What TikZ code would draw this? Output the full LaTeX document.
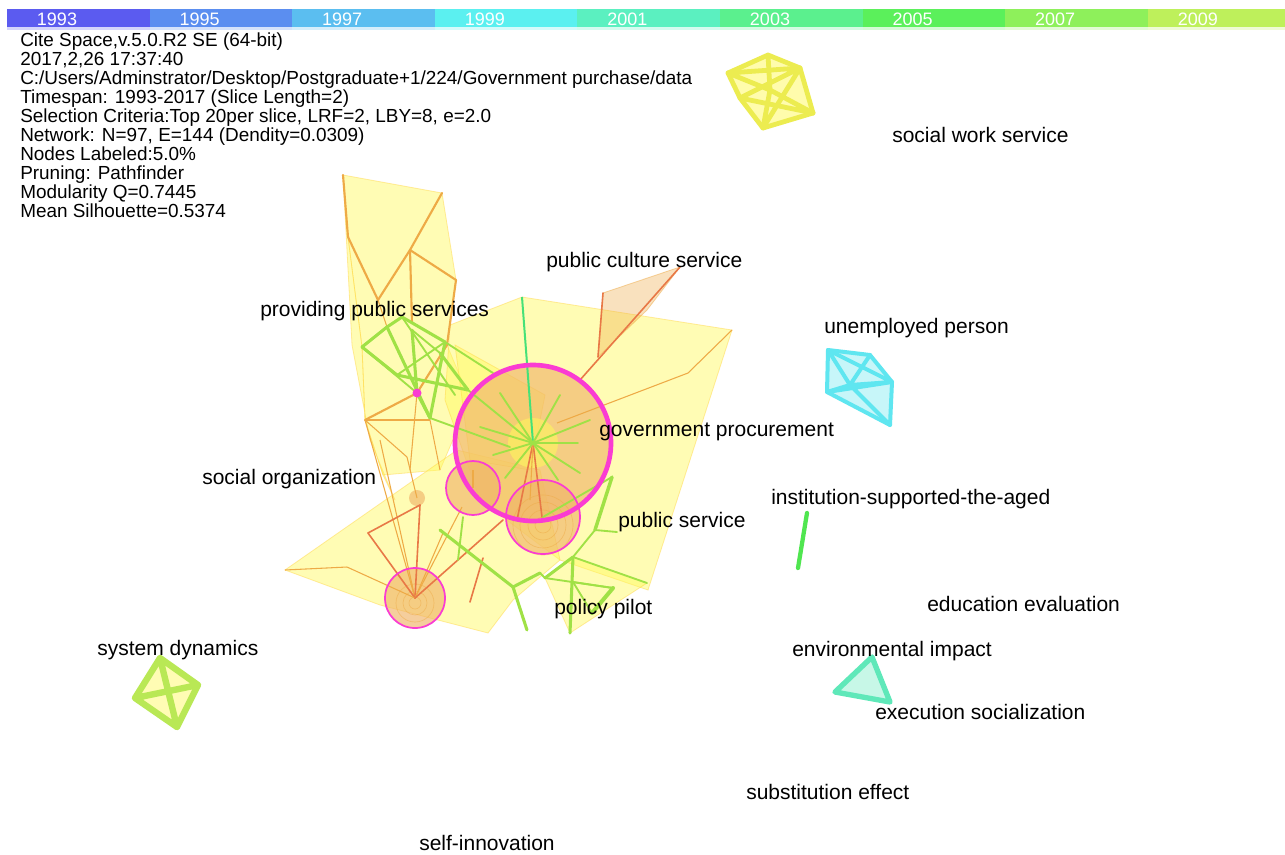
\documentclass[tikz,border=0pt]{standalone}
\usepackage{fontspec}
\setmainfont{Liberation Sans}
\usetikzlibrary{calc}
\definecolor{y93}{RGB}{91,91,240}
\definecolor{y95}{RGB}{91,142,240}
\definecolor{y97}{RGB}{91,190,240}
\definecolor{y99}{RGB}{91,240,240}
\definecolor{y01}{RGB}{91,240,192}
\definecolor{y03}{RGB}{91,240,142}
\definecolor{y05}{RGB}{91,240,91}
\definecolor{y07}{RGB}{142,240,91}
\definecolor{y09}{RGB}{190,240,91}
\definecolor{hullY}{RGB}{255,250,90}
\definecolor{orgC}{RGB}{238,170,70}
\definecolor{redC}{RGB}{232,120,70}
\definecolor{grnC}{RGB}{160,225,70}
\definecolor{bgrn}{RGB}{70,225,120}
\definecolor{pinkC}{RGB}{250,60,210}
\definecolor{peach}{RGB}{240,180,105}
\definecolor{swY}{RGB}{236,236,80}
\definecolor{cyC}{RGB}{95,230,240}
\definecolor{sdC}{RGB}{185,232,85}
\definecolor{inC}{RGB}{80,230,80}
\definecolor{evC}{RGB}{95,232,185}
\begin{document}
\begin{tikzpicture}[x=0.75pt,y=-0.75pt,
  hull/.style={fill=hullY, fill opacity=0.45, draw=hullY!70!orange, draw opacity=0.45, line width=0.6pt},
  org/.style={draw=orgC, line width=1.6pt, line cap=round},
  orgthin/.style={draw=orgC, line width=0.8pt},
  redl/.style={draw=redC, line width=1.2pt, line cap=round},
  grn/.style={draw=grnC, line width=2.3pt, line cap=round},
  grnthin/.style={draw=grnC, line width=1.4pt, line cap=round},
  cfill/.style={fill=peach, fill opacity=0.65},
  ring/.style={draw=pinkC, line width=1.3pt},
  lbl/.style={anchor=base west, font=\fontsize{15.75}{18}\selectfont, inner sep=0pt},
  info/.style={anchor=base west, font=\fontsize{14.2}{14}\selectfont, inner sep=0pt},
  yr/.style={anchor=base, font=\fontsize{13.5}{14}\selectfont, text=white, inner sep=0pt},
  clus/.style={line width=3.6pt, line cap=round, line join=round}
]
\useasboundingbox (0,0) rectangle (1285,854);
\fill[white] (0,0) rectangle (1285,854);

% ---------- year bar ----------
\foreach \c/\t [count=\i from 0] in {y93/1993,y95/1995,y97/1997,y99/1999,y01/2001,y03/2003,y05/2005,y07/2007,y09/2009}{
  \fill[\c] ({7+142.6*\i},9) rectangle ({7+142.6*(\i+1)},27);
  \fill[\c, opacity=0.25] ({7+142.6*\i},27) rectangle ({7+142.6*(\i+1)},30);
  \node[yr] (yr\t) at ({57+142.6*\i},25) {\t};
}

% ---------- info text ----------
\node[info] (i1) at (20,46) {Cite Space,v.5.0.R2 SE (64-bit)};
\node[info] (i2) at (20,65) {2017,2,26 17:37:40};
\node[info] (i3) at (20,84) {C:/Users/Adminstrator/Desktop/Postgraduate+1/224/Government purchase/data};
\node[info] (i4) at (20,103) {Timespan: 1993-2017 (Slice Length=2)};
\node[info] (i5) at (20,122) {Selection Criteria:Top 20per slice, LRF=2, LBY=8, e=2.0};
\node[info] (i6) at (20,141) {Network: N=97, E=144 (Dendity=0.0309)};
\node[info] (i7) at (20,160) {Nodes Labeled:5.0\%};
\node[info] (i8) at (20,179) {Pruning: Pathfinder};
\node[info] (i9) at (20,198) {Modularity Q=0.7445};
\node[info] (i10) at (20,217) {Mean Silhouette=0.5374};

% ---------- main cluster coordinates ----------
\coordinate (ta1) at (343,175);
\coordinate (ta2) at (442,193);
\coordinate (ta3) at (456,280);
\coordinate (ta4) at (447,345);
\coordinate (ta5) at (348,237);
\coordinate (ta6) at (410,250);
\coordinate (ta7) at (378,300);
\coordinate (ta8) at (412,323);
\coordinate (o1) at (365,420);
\coordinate (o2) at (430,420);
\coordinate (o3) at (407,457);
\coordinate (o4) at (383,475);
\coordinate (p1) at (362,347);
\coordinate (p2) at (387,327);
\coordinate (p3) at (402,317);
\coordinate (p4) at (445,342);
\coordinate (p5) at (397,375);
\coordinate (pd) at (417,393);
\coordinate (p7) at (430,418);
\coordinate (p8) at (468,390);
\coordinate (p9) at (440,353);
\coordinate (p10) at (412,330);
\coordinate (p11) at (493,373);
\coordinate (p12) at (455,395);
\coordinate (bt) at (522,297);
\coordinate (br) at (732,330);
\coordinate (bm) at (688,373);
\coordinate (bb) at (648,590);
\coordinate (c0) at (533,443);
\coordinate (c2) at (473,488);
\coordinate (c3) at (543,517);
\coordinate (c4) at (415,598);
\coordinate (blob) at (417,498);
\coordinate (e1) at (603,293);
\coordinate (e2) at (680,267);
\coordinate (e3) at (647,310);
\coordinate (e4) at (598,357);
\coordinate (e5) at (580,380);
\coordinate (l1) at (285,570);
\coordinate (l2) at (347,567);
\coordinate (l3) at (368,533);
\coordinate (l4) at (420,505);
\coordinate (l5) at (443,533);
\coordinate (l6) at (462,507);
\coordinate (l7) at (503,520);
\coordinate (l8) at (380,440);
\coordinate (l9) at (470,602);
\coordinate (l10) at (483,558);
\coordinate (g1) at (440,530);
\coordinate (g2) at (513,587);
\coordinate (g3) at (527,630);
\coordinate (g4) at (540,573);
\coordinate (g5) at (463,517);
\coordinate (g6) at (458,560);
\coordinate (q1) at (573,557);
\coordinate (q2) at (545,578);
\coordinate (q3) at (573,582);
\coordinate (q4) at (613,588);
\coordinate (q5) at (592,613);
\coordinate (q6) at (647,583);
\coordinate (q7) at (570,633);
\coordinate (q8) at (595,530);
\coordinate (q9) at (612,477);
\coordinate (q10) at (617,532);

% ---------- hulls ----------
\path[hull] (ta1) -- (ta2) -- (ta3) -- (ta4) -- (470,400) -- (440,470) -- (o4) -- (o1) -- (p1) -- (ta5) -- cycle;
\path[hull] (450,325) -- (bt) -- (br) -- (bb) -- (560,560) -- (480,500) -- (445,400) -- cycle;
\path[hull] (l1) -- (457,450) -- (540,470) -- (560,560) -- (513,600) -- (488,633) -- (380,605) -- cycle;
\path[hull] (q2) -- (q1) -- (q6) -- (q7) -- cycle;
\path[hull] (ta1) -- (ta5) -- (p1) -- (o1) -- (o4) -- (395,500) -- (370,440) -- (352,345) -- cycle;
\path[hull] (455,345) -- (545,395) -- (530,470) -- (470,460) -- cycle;
\path[fill=orgC, fill opacity=0.35, draw=orgC, draw opacity=0.5, line width=0.6pt] (e1) -- (e2) -- (e3) -- (e4) -- cycle;

% ---------- circle fills ----------
\fill[cfill] (c0) circle (78);
\fill[hullY, fill opacity=0.55] (c0) circle (25);
\fill[cfill] (c2) circle (27);
\fill[cfill] (c3) circle (37);
\fill[cfill] (c4) circle (30);
\fill[cfill] (blob) circle (8);
\foreach \r in {8,15,23,30}{ \draw[orgC, opacity=0.5, line width=0.5pt] ($(c3)+(0,8)$) circle (\r); }
\foreach \r in {6,12,19}{ \draw[orgC, opacity=0.5, line width=0.5pt] ($(c4)+(0,5)$) circle (\r); }

% ---------- orange edges ----------
\draw[org] (ta1) -- (ta5);
\draw[org] (ta5) -- (ta7);
\draw[org] (ta2) -- (ta6);
\draw[org] (ta6) -- (ta7);
\draw[org] (ta6) -- (ta3);
\draw[org] (ta6) -- (ta8);
\draw[org] (ta3) -- (ta4);
\draw[orgthin] (ta7) -- (p2);
\draw[org] (ta4) -- (pd);
\draw[org] (o1) -- (pd);
\draw[orgthin] (o1) -- (o2);
\draw[orgthin] (o1) -- (o3);
\draw[orgthin] (o3) -- (blob);
\draw[orgthin] (o1) -- (c4);
\draw[orgthin] (l8) -- (c4);
\draw[orgthin] (pd) -- (410,470);
\draw[orgthin] (o2) -- (440,470);
\draw[redl] (l3) -- (c4);
\draw[redl] (l3) -- (l4);
\draw[redl] (l4) -- (c4);
\draw[orgthin] (l5) -- (c4);
\draw[orgthin] (l2) -- (c4);
\draw[orgthin] (l1) -- (l2);
\draw[orgthin] (l6) -- (c4);
\draw[redl] (l7) -- (c4);
\draw[redl] (l9) -- (l10);
\draw[redl] (e1) -- (e4);
\draw[redl] (e2) -- (e5);
\draw[orgthin] (br) -- (bm) -- (557,423);
\draw[redl] (c0) -- (517,520);
\draw[redl] (c0) -- (542,517);
\draw[orgthin] (c0) -- (530,500);
\draw[orgthin] (473,470) -- (c2);

% ---------- green edges ----------
\draw[grn] (p1) -- (p2) -- (p3) -- (p4);
\draw[grn] (p1) -- (p5) -- (p8);
\draw[grn] (p2) -- (p7);
\draw[grn] (p4) -- (p7);
\draw[grn] (p9) -- (p8);
\draw[grn] (p10) -- (pd) -- (p7);
\draw[grnthin] (p5) -- (p4);
\draw[grnthin] (p3) -- (p12);
\draw[grnthin] (p1) -- (pd);
\draw[grnthin] (p10) -- (p9);
\draw[grnthin] (p4) -- (p11);
\draw[grnthin] (p7) -- (510,447);
\draw[grnthin] (p8) -- (c0);
\draw[bgrn, line width=1.5pt] (bt) -- (c0);
\foreach \t in {(500,393),(480,427),(493,455),(578,443),(590,420),(580,473),(558,480),(505,478),(560,395)}{
  \draw[grnthin] (c0) -- \t;
}
\draw[grn] (g1) -- (g2) -- (g3);
\draw[grn] (g2) -- (g4);
\draw[grnthin] (g5) -- (g6);
\draw[grnthin] (g4) -- (q2);
\draw[grn] (q1) -- (q2);
\draw[grnthin] (q1) -- (q6);
\draw[grn] (q1) -- (q7);
\draw[grnthin] (q2) -- (q4);
\draw[grnthin] (q3) -- (q5);
\draw[grnthin] (q3) -- (q4);
\draw[grn, line width=3pt] (q4) -- (q5);
\draw[grn, line width=2.6pt] (q8) -- (q9);
\draw[grnthin] (q8) -- (q10);
\draw[grnthin] (q1) -- (q8);
\draw[grnthin] (c3) -- (q9);

% ---------- rings ----------
\draw[pinkC, line width=3.5pt] (c0) circle (78);
\draw[ring] (c2) circle (27);
\draw[ring] (c3) circle (37);
\draw[ring] (c4) circle (30);
\fill[pinkC] (pd) circle (4.5);

% ---------- social work service cluster ----------
\coordinate (sa) at (728,73);
\coordinate (sb) at (768,55);
\coordinate (sc) at (800,68);
\coordinate (sd) at (813,113);
\coordinate (se) at (763,128);
\coordinate (sf) at (740,98);
\coordinate (sg) at (770,90);
\fill[hullY, fill opacity=0.5] (sa) -- (sb) -- (sc) -- (sd) -- (se) -- (sf) -- cycle;
\draw[swY, clus] (sa) -- (sb) -- (sc) -- (sd) -- (se) -- (sf) -- cycle;
\draw[swY, clus] (sa) -- (sc) (sb) -- (sg) -- (se) (sf) -- (sd) (sa) -- (sg) (sg) -- (sd) (sc) -- (se) (sf) -- (sc);

% ---------- unemployed person cluster ----------
\coordinate (ua) at (828,350);
\coordinate (ub) at (870,355);
\coordinate (uc) at (892,382);
\coordinate (ud) at (890,425);
\coordinate (ue) at (827,392);
\coordinate (uf) at (850,385);
\fill[cyC, fill opacity=0.35] (ua) -- (ub) -- (uc) -- (ud) -- (ue) -- cycle;
\draw[cyC, clus, line width=3pt] (ua) -- (ub) -- (uc) -- (ud) -- (ue) -- cycle;
\draw[cyC, clus, line width=3pt] (ua) -- (uc) (ue) -- (uc) (ub) -- (uf) -- (ud) (ua) -- (uf) (ue) -- (uf) (uf) -- (uc);

% ---------- system dynamics ----------
\coordinate (s1) at (160,658);
\coordinate (s2) at (198,685);
\coordinate (s3) at (177,727);
\coordinate (s4) at (135,698);
\fill[hullY, fill opacity=0.45] (s1) -- (s2) -- (s3) -- (s4) -- cycle;
\draw[sdC, clus, line width=4.8pt] (s1) -- (s2) -- (s3) -- (s4) -- cycle (s1) -- (s3) (s2) -- (s4);

% ---------- institution ----------
\coordinate (n1) at (807,513);
\coordinate (n2) at (798,568);
\draw[inC, line width=3.2pt, line cap=round] (n1) -- (n2);

% ---------- environmental triangle ----------
\coordinate (t1) at (872,657);
\coordinate (t2) at (835,692);
\coordinate (t3) at (890,702);
\fill[evC!35] (t1) -- (t2) -- (t3) -- cycle;
\draw[evC, clus, line width=4pt] (t1) -- (t2) -- (t3) -- cycle;

% ---------- labels ----------
\node[lbl] (lsws) at (892,142) {social work service};
\node[lbl] (lpcs) at (546,267) {public culture service};
\node[lbl] (lpps) at (260,316) {providing public services};
\node[lbl] (lup) at (824,333) {unemployed person};
\node[lbl] (lgp) at (599,436) {government procurement};
\node[lbl] (lso) at (202,484) {social organization};
\node[lbl] (lisa) at (771,504) {institution-supported-the-aged};
\node[lbl] (lps) at (618,527) {public service};
\node[lbl] (lee) at (927,611) {education evaluation};
\node[lbl] (lpp) at (554,614) {policy pilot};
\node[lbl] (lsd) at (97,655) {system dynamics};
\node[lbl] (lei) at (792,656) {environmental impact};
\node[lbl] (les) at (875,719) {execution socialization};
\node[lbl] (lse) at (746,799) {substitution effect};
\node[lbl] (lsi) at (419,850) {self-innovation};
\end{tikzpicture}
\end{document}
